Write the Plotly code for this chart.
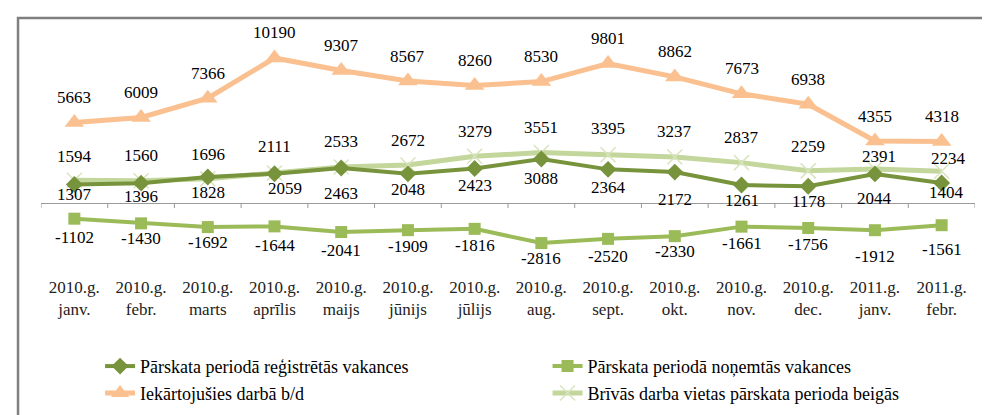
import plotly.graph_objects as go

months = ["2010.g.<br>janv.", "2010.g.<br>febr.", "2010.g.<br>marts", "2010.g.<br>aprīlis",
          "2010.g.<br>maijs", "2010.g.<br>jūnijs", "2010.g.<br>jūlijs", "2010.g.<br>aug.",
          "2010.g.<br>sept.", "2010.g.<br>okt.", "2010.g.<br>nov.", "2010.g.<br>dec.",
          "2011.g.<br>janv.", "2011.g.<br>febr."]

registered = [1307, 1396, 1828, 2059, 2463, 2048, 2423, 3088, 2364, 2172, 1261, 1178, 2044, 1404]
removed = [-1102, -1430, -1692, -1644, -2041, -1909, -1816, -2816, -2520, -2330, -1661, -1756, -1912, -1561]
employed = [5663, 6009, 7366, 10190, 9307, 8567, 8260, 8530, 9801, 8862, 7673, 6938, 4355, 4318]
free_end = [1594, 1560, 1696, 2111, 2533, 2672, 3279, 3551, 3395, 3237, 2837, 2259, 2391, 2234]

names = ["Pārskata periodā reģistrētās vakances", "Pārskata periodā noņemtās vakances",
         "Iekārtojušies darbā b/d", "Brīvās darba vietas pārskata perioda beigās"]

# label placement (pixel offsets from the marker), as in the source chart
off_employed = [25] * 14
off_free = [24, 25, 24, 26, 25, 24, 25, 25, 26, 25, 25, 24, 12, 13]
off_registered = [-10, -13, -16, -15, -26, -16, -17, -19, -18, -27, -15, -15, -25, -9]
off_removed = [-19, -15, -15, -19, -18, -16, -17, -15, -18, -15, -17, -17, -26, -24]
xoff_registered = [0, 0, 0, 10, 0, 0, 0, 0, 0, 0, 0, 0, 0, 5]
xoff_free = [0] * 12 + [4, 7]

C_DARK = "#77933C"
C_SQ = "#9BBB59"
C_OR = "#FAC090"
C_LG = "#C3D69B"
C_LGM = "#D7E4BD"

FONT = "Liberation Serif"

fig = go.Figure()
fig.add_trace(go.Scatter(x=months, y=free_end, name=names[3], mode="lines+markers",
                         line=dict(color=C_LG, width=5),
                         marker=dict(symbol="x-thin-open", size=15, line=dict(color=C_LGM, width=1.5), color=C_LGM),
                         legend="legend4"))
fig.add_trace(go.Scatter(x=months, y=registered, name=names[0], mode="lines+markers",
                         line=dict(color=C_DARK, width=4),
                         marker=dict(symbol="diamond", size=13, color=C_DARK),
                         legend="legend"))
fig.add_trace(go.Scatter(x=months, y=removed, name=names[1], mode="lines+markers",
                         line=dict(color=C_SQ, width=4),
                         marker=dict(symbol="square", size=12, color=C_SQ),
                         legend="legend2"))
fig.add_trace(go.Scatter(x=months, y=employed, name=names[2], mode="lines+markers",
                         line=dict(color=C_OR, width=5),
                         marker=dict(symbol="triangle-up", size=17, color=C_OR),
                         legend="legend3"))

annotations = []
def add_labels(vals, shifts, xshifts=None):
    xshifts = xshifts or [0] * len(vals)
    for m, v, s, xs in zip(months, vals, shifts, xshifts):
        annotations.append(dict(x=m, y=v, text=str(v), showarrow=False, yshift=s, xshift=xs,
                                font=dict(family=FONT, size=17, color="black")))

add_labels(employed, off_employed)
add_labels(free_end, off_free, xoff_free)
add_labels(registered, off_registered, xoff_registered)
add_labels(removed, off_removed)

shapes = []
for i in range(len(months) + 1):
    shapes.append(dict(type="line", xref="x", yref="y", ysizemode="pixel", yanchor=0,
                       x0=i - 0.5, x1=i - 0.5, y0=0, y1=-5,
                       line=dict(color="#9a9a9a", width=1)))
# outer frame (top and left edges visible)
shapes.append(dict(type="rect", xref="paper", yref="paper", x0=-0.0246, x1=1.1, y0=-0.8, y1=1.117,
                   line=dict(color="#7f7f7f", width=2.5), fillcolor="rgba(0,0,0,0)", layer="below"))

legend_common = dict(orientation="h", xanchor="left", yanchor="top", xref="container", yref="container",
                     font=dict(family=FONT, size=18, color="black"), bgcolor="rgba(0,0,0,0)")

fig.update_layout(
    width=990, height=415,
    margin=dict(l=33, r=23, t=37, b=148, autoexpand=False),
    paper_bgcolor="white", plot_bgcolor="white",
    font=dict(family=FONT, size=15, color="black"),
    xaxis=dict(type="category", showgrid=False, showline=False, zeroline=False,
               ticks="", tickfont=dict(family=FONT, size=17, color="#222"),
               range=[-0.5, len(months) - 0.5], ticklabelstandoff=0, automargin=False),
    yaxis=dict(range=[-5060, 11103], showticklabels=False, showgrid=False, ticks="",
               zeroline=True, zerolinecolor="#9a9a9a", zerolinewidth=1, automargin=False),
    annotations=annotations,
    shapes=shapes,
    legend=dict(legend_common, x=0.093, y=0.181),
    legend2=dict(legend_common, x=0.545, y=0.181),
    legend3=dict(legend_common, x=0.093, y=0.116),
    legend4=dict(legend_common, x=0.545, y=0.116),
    showlegend=True,
)

fig.write_html("out.html")
